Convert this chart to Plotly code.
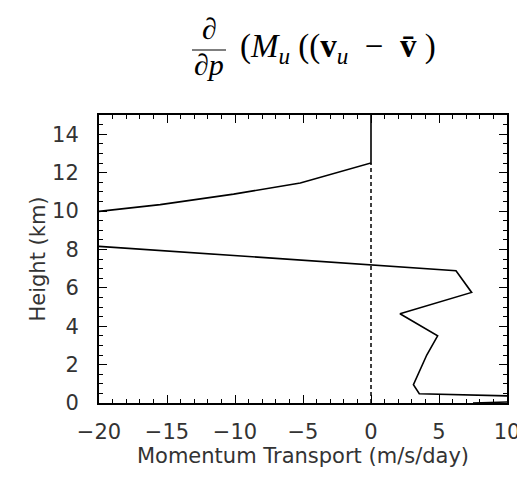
import plotly.graph_objects as go

# Profile data (momentum transport in m/s/day vs height in km)
upper_x = [0.0, 0.0, -5.2, -10.1, -15.5, -20.0]
upper_y = [15.0, 12.5, 11.46, 10.88, 10.33, 9.98]

lower_x = [-20.0, 0.0, 6.25, 7.4, 2.13, 4.9, 4.1, 3.12, 3.55, 10.5, 12.0, 7.5]
lower_y = [8.16, 7.2, 6.89, 5.76, 4.65, 3.5, 2.5, 0.95, 0.48, 0.36, 0.1, 0.0]

zero_x = [0.0, 0.0]
zero_y = [0.0, 12.5]

x_ticks = [-20, -15, -10, -5, 0, 5, 10]
x_tick_labels = ["\u221220", "\u221215", "\u221210", "\u22125", "0", "5", "10"]
y_ticks = [0, 2, 4, 6, 8, 10, 12, 14]

# page body has an 8px margin
OFF = 8
W, H = 525 - OFF, 477 - OFF
L = 99 - OFF
T = 115 - OFF
R = W - (507 - OFF)
B = H - (403 - OFF)
pw = W - L - R
ph = H - T - B


def px_to_paper(px, py):
    """screen pixel -> paper coords"""
    fx, fy = px - OFF, py - OFF
    return (fx - L) / pw, (H - fy - B) / ph


fig = go.Figure()
fig.add_trace(go.Scatter(x=zero_x, y=zero_y, mode="lines",
                         line=dict(color="black", width=1.5, dash="4px,3px"),
                         showlegend=False, hoverinfo="skip"))
fig.add_trace(go.Scatter(x=upper_x, y=upper_y, mode="lines",
                         line=dict(color="black", width=1.6), showlegend=False))
fig.add_trace(go.Scatter(x=lower_x, y=lower_y, mode="lines",
                         line=dict(color="black", width=1.6), showlegend=False))

tickfont = dict(family="DejaVu Sans", size=21, color="#333")

fig.update_xaxes(range=[-20, 10], tickvals=x_ticks, ticktext=x_tick_labels,
                 ticks="inside", ticklen=8, tickwidth=1.2, tickcolor="black",
                 minor=dict(dtick=1, ticks="inside", ticklen=4, tickcolor="black", tickwidth=1),
                 showline=True, linecolor="black", linewidth=2, mirror="allticks",
                 showgrid=False, zeroline=False, tickfont=tickfont, automargin=False,
                 ticklabelstandoff=9,
                 title=dict(text="Momentum Transport (m/s/day)",
                            font=dict(family="DejaVu Sans", size=21, color="#333"),
                            standoff=4))
fig.update_yaxes(range=[0, 15], tickvals=y_ticks,
                 ticks="inside", ticklen=8, tickwidth=1.2, tickcolor="black",
                 minor=dict(dtick=0.5, ticks="inside", ticklen=4, tickcolor="black", tickwidth=1),
                 showline=True, linecolor="black", linewidth=2, mirror="allticks",
                 showgrid=False, zeroline=False, tickfont=tickfont, ticklabelstandoff=14,
                 automargin=False,
                 title=dict(text="Height (km)",
                            font=dict(family="DejaVu Sans", size=21, color="#333"),
                            standoff=1))

serif = "Liberation Serif"
nx, ny = px_to_paper(209, 29)
fig.add_annotation(x=nx, y=ny, xref="paper", yref="paper", xanchor="center", yanchor="middle",
                   text="<i>\u2202</i>", showarrow=False,
                   font=dict(family=serif, size=30, color="black"))
dx, dy = px_to_paper(209, 64)
fig.add_annotation(x=dx, y=dy, xref="paper", yref="paper", xanchor="center", yanchor="middle",
                   text="<i>\u2202p</i>", showarrow=False,
                   font=dict(family=serif, size=30, color="black"))
ex, ey = px_to_paper(238, 48)
fig.add_annotation(x=ex, y=ey, xref="paper", yref="paper", xanchor="left", yanchor="middle",
                   text="(<i>M</i><sub><i>u</i></sub> ((<b>v</b><sub><i>u</i></sub>  \u2212  <b>v\u0304</b> )",
                   showarrow=False, font=dict(family=serif, size=33, color="black"))

bx0, by = px_to_paper(192, 50)
bx1, _ = px_to_paper(226, 50)
fig.add_shape(type="line", xref="paper", yref="paper", x0=bx0, x1=bx1, y0=by, y1=by,
              line=dict(color="black", width=1.2))

fig.update_layout(width=W, height=H, margin=dict(l=L, r=R, t=T, b=B, autoexpand=False),
                  plot_bgcolor="white", paper_bgcolor="white")

fig.write_html("out.html")
